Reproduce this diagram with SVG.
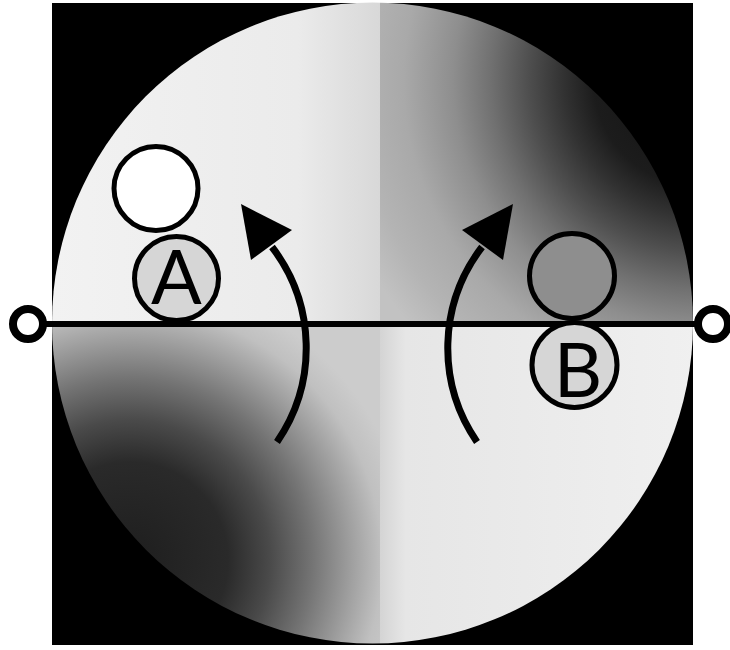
<svg xmlns="http://www.w3.org/2000/svg" width="730" height="650" viewBox="0 0 730 650">
<style>
.ring{stroke:#000;stroke-width:5}
.lbl{font-family:Lato,"Liberation Sans",sans-serif;font-size:75px;fill:#000;text-anchor:middle}
.arc{fill:none;stroke:#000;stroke-width:7}
.axis{stroke:#000;stroke-width:6}
.end{fill:#fff;stroke:#000;stroke-width:8}
</style>
<defs>
<clipPath id="disk"><circle cx="372.5" cy="323" r="320.5"/></clipPath>
<linearGradient id="ul" gradientUnits="userSpaceOnUse" x1="52" y1="0" x2="380" y2="0">
<stop offset="0" stop-color="#f2f2f2"/><stop offset="0.75" stop-color="#ebebeb"/><stop offset="1" stop-color="#d8d8d8"/>
</linearGradient>
<linearGradient id="lr" gradientUnits="userSpaceOnUse" x1="380" y1="0" x2="700" y2="0">
<stop offset="0" stop-color="#d4d4d4"/><stop offset="0.08" stop-color="#e6e6e6"/><stop offset="1" stop-color="#f0f0f0"/>
</linearGradient>
<radialGradient id="ur" gradientUnits="userSpaceOnUse" cx="700" cy="80" r="380">
<stop offset="0" stop-color="#101010"/><stop offset="0.28" stop-color="#1c1c1c"/><stop offset="0.36" stop-color="#323232"/><stop offset="0.45" stop-color="#4e4e4e"/><stop offset="0.55" stop-color="#707070"/><stop offset="0.65" stop-color="#8e8e8e"/><stop offset="0.78" stop-color="#a9a9a9"/><stop offset="0.9" stop-color="#b4b4b4"/><stop offset="1" stop-color="#c2c2c2"/>
</radialGradient>
<radialGradient id="ll" gradientUnits="userSpaceOnUse" cx="130" cy="560" r="280">
<stop offset="0" stop-color="#1e1e1e"/><stop offset="0.35" stop-color="#2a2a2a"/><stop offset="0.5" stop-color="#4a4a4a"/><stop offset="0.65" stop-color="#747474"/><stop offset="0.8" stop-color="#a2a2a2"/><stop offset="0.9" stop-color="#c0c0c0"/><stop offset="1" stop-color="#cccccc"/>
</radialGradient>
</defs>
<rect x="0" y="0" width="730" height="650" fill="#fff"/>
<rect x="52" y="3" width="641" height="642" fill="#000"/>
<g id="disk-image" clip-path="url(#disk)">
<rect x="0" y="0" width="380" height="324" fill="url(#ul)"/>
<rect x="380" y="0" width="350" height="324" fill="url(#ur)"/>
<rect x="0" y="324" width="380" height="330" fill="url(#ll)"/>
<rect x="380" y="324" width="350" height="330" fill="url(#lr)"/>
</g>
<g id="connectors">
<line class="axis" x1="44" y1="324" x2="697" y2="324"/>
<path class="arc" d="M277 442 A166 166 0 0 0 272 247"/>
<polygon points="241,204 292,230 251,260" fill="#000"/>
<path class="arc" d="M477 442 A166 166 0 0 1 482 247"/>
<polygon points="513,204 462,230 503,260" fill="#000"/>
</g>
<g id="end-left"><circle class="end" cx="28" cy="324" r="15"/></g>
<g id="end-right"><circle class="end" cx="713" cy="324" r="15"/></g>
<g id="a-top"><circle class="ring" cx="156" cy="188.5" r="42" fill="#fff"/></g>
<g id="node-a"><circle class="ring" cx="176.5" cy="278.5" r="42" fill="#d6d6d6"/><text class="lbl" x="176.5" y="304">A</text></g>
<g id="b-top"><circle class="ring" cx="572" cy="276" r="42.5" fill="#8e8e8e"/></g>
<g id="node-b"><circle class="ring" cx="574.5" cy="365" r="42.5" fill="#d6d6d6"/><text class="lbl" x="578" y="397">B</text></g>
</svg>
